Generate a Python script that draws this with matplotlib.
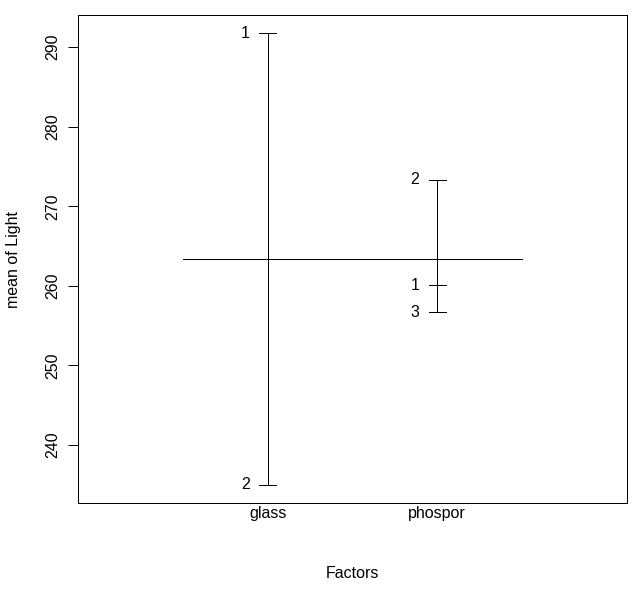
import matplotlib
matplotlib.use("Agg")
import matplotlib.pyplot as plt
import numpy as np

plt.rcParams['font.family'] = ['Liberation Sans', 'DejaVu Sans']

# level means of Light for each factor
factors = ['glass', 'phospor']
levels = [['1', '2'], ['1', '2', '3']]
means = [[291.75, 235.0], [260.1, 273.3, 256.7]]
grand_mean = 263.37

dpi = 96
fig = plt.figure(figsize=(638 / dpi, 594 / dpi), dpi=dpi)
ax = fig.add_axes([78 / 638, 1 - 503 / 594, 549 / 638, 488 / 594])

lw = 0.75
nf = len(factors)
for i, (lv, m) in enumerate(zip(levels, means)):
    x = i + 1
    ax.plot([x, x], [min(m), max(m)], color='black', lw=lw)
    for lab, v in zip(lv, m):
        ax.plot([x - 0.05, x + 0.05], [v, v], color='black', lw=lw)
        ax.text(x - 0.105, v, lab, ha='right', va='center', fontsize=12)

# grand mean
ax.plot([0.5, nf + 0.5], [grand_mean, grand_mean], color='black', lw=lw)

allv = np.concatenate([np.array(m) for m in means])
lo, hi = allv.min(), allv.max()
pad = 0.04 * (hi - lo)
ax.set_ylim(lo - pad, hi + pad)
ax.set_xlim(-0.12, nf + 1.12)

ax.set_xticks(range(1, nf + 1))
ax.set_xticklabels(factors, fontsize=12)
ax.tick_params(axis='x', length=0, pad=2)
ax.set_yticks([240, 250, 260, 270, 280, 290])
ax.set_yticklabels(['240', '250', '260', '270', '280', '290'], rotation=90,
                   va='center', fontsize=12)
ax.tick_params(axis='y', length=7.5, width=lw, pad=6)
ax.set_xlabel('Factors', fontsize=12, labelpad=34)
ax.set_ylabel('mean of Light', fontsize=12, labelpad=18)
for s in ax.spines.values():
    s.set_linewidth(lw)

fig.savefig('out.png', dpi=dpi)
